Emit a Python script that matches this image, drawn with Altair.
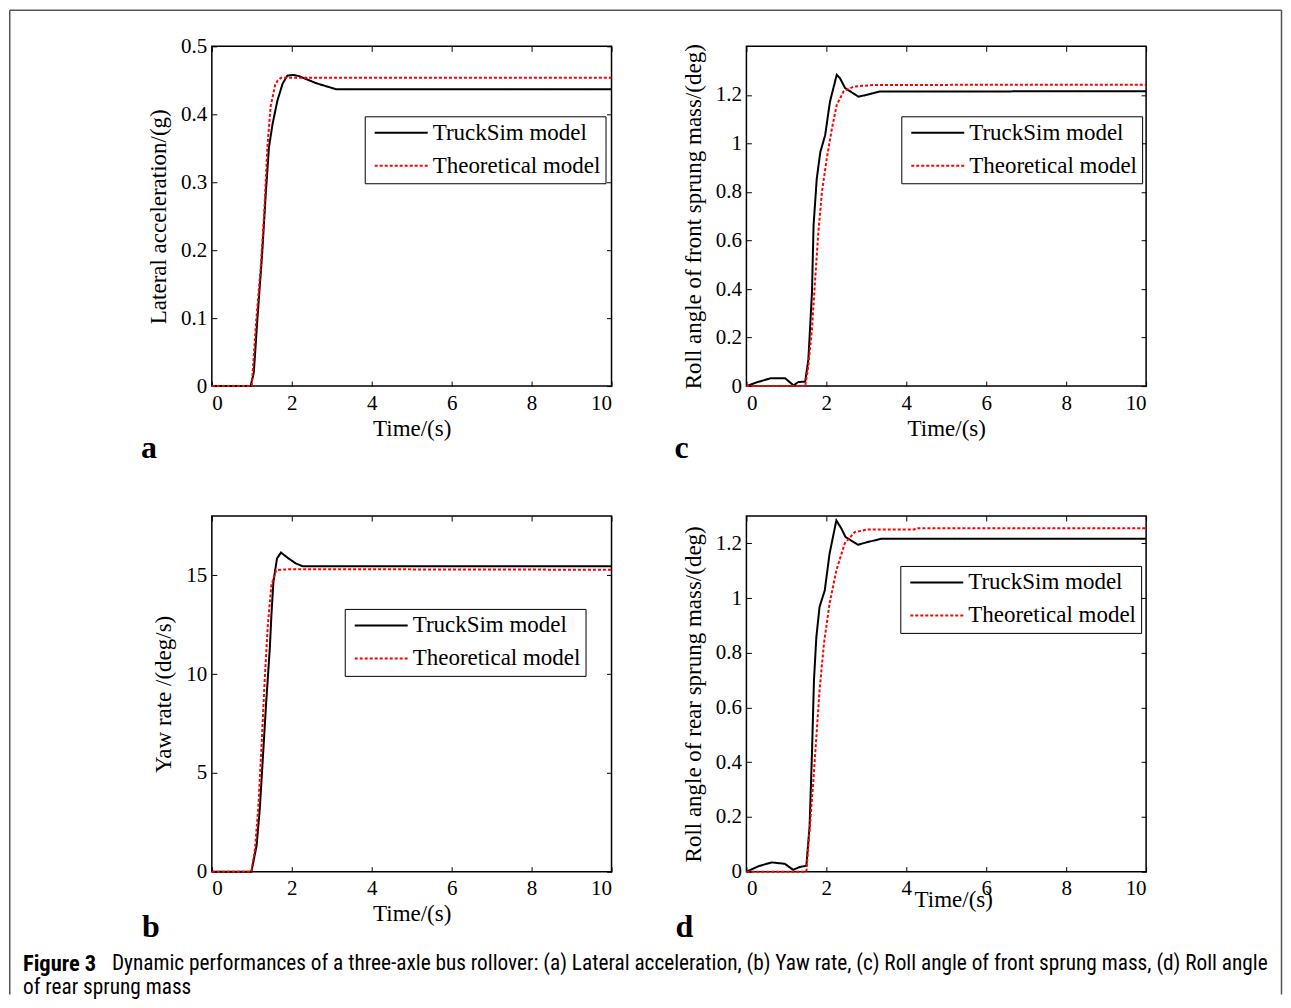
import altair as alt
import pandas as pd

SERIES = ["TruckSim model", "Theoretical model"]
X_TICKS = [0, 2, 4, 6, 8, 10]

# Panel a: lateral acceleration (g)
A_T_TRUCK = [0, 0.97, 1.05, 1.14, 1.26, 1.35, 1.43, 1.52, 1.64, 1.77, 1.89, 2.05, 2.19, 2.6, 3.1, 10]
A_V_TRUCK = [0, 0, 0.02, 0.099, 0.196, 0.284, 0.352, 0.386, 0.42, 0.445, 0.457, 0.458, 0.456, 0.446, 0.437, 0.437]
A_T_THEORY = [0, 1.0, 1.10, 1.22, 1.31, 1.39, 1.47, 1.58, 1.65, 1.73, 10]
A_V_THEORY = [0, 0, 0.089, 0.172, 0.255, 0.352, 0.411, 0.4425, 0.45, 0.4537, 0.4537]
A_Y_TICKS = [0, 0.1, 0.2, 0.3, 0.4, 0.5]

# Panel b: yaw rate (deg/s)
B_T_TRUCK = [0, 0.99, 1.12, 1.2, 1.28, 1.36, 1.45, 1.49, 1.54, 1.63, 1.73, 1.9, 2.1, 2.27, 10]
B_V_TRUCK = [0, 0, 1.32, 3.18, 5.88, 8.58, 11.29, 12.97, 14.66, 15.85, 16.15, 15.88, 15.6, 15.46, 15.46]
B_T_THEORY = [0, 0.99, 1.08, 1.16, 1.24, 1.32, 1.4, 1.49, 1.61, 1.94, 10]
B_V_THEORY = [0, 0, 1.15, 3.18, 6.22, 9.6, 12.47, 14.5, 15.26, 15.31, 15.28]
B_Y_TICKS = [0, 5, 10, 15]

# Panel c: roll angle of front sprung mass (deg)
C_T_TRUCK = [0, 0.25, 0.6, 0.97, 1.18, 1.3, 1.47, 1.55, 1.64, 1.68, 1.76, 1.85, 1.97, 2.09, 2.26, 2.34, 2.47, 2.8, 3.01, 3.34, 10]
C_V_TRUCK = [0, 0.015, 0.032, 0.032, 0.003, 0.017, 0.018, 0.11, 0.386, 0.662, 0.855, 0.965, 1.034, 1.172, 1.283, 1.269, 1.228, 1.193, 1.2, 1.214, 1.215]
C_T_THEORY = [0, 1.47, 1.55, 1.64, 1.72, 1.8, 1.89, 2.01, 2.14, 2.26, 2.43, 2.68, 3.17, 10]
C_V_THEORY = [0, 0, 0.083, 0.235, 0.441, 0.634, 0.8, 0.938, 1.062, 1.159, 1.214, 1.234, 1.241, 1.242]
C_Y_TICKS = [0, 0.2, 0.4, 0.6, 0.8, 1.0, 1.2]

# Panel d: roll angle of rear sprung mass (deg)
D_T_TRUCK = [0, 0.3, 0.63, 0.96, 1.17, 1.33, 1.5, 1.58, 1.64, 1.69, 1.75, 1.83, 1.96, 2.08, 2.25, 2.38, 2.48, 2.79, 3.04, 3.38, 10]
D_V_TRUCK = [0, 0.02, 0.034, 0.029, 0.007, 0.017, 0.022, 0.165, 0.433, 0.7, 0.858, 0.968, 1.028, 1.162, 1.284, 1.253, 1.223, 1.195, 1.205, 1.217, 1.217]
D_T_THEORY = [0, 1.5, 1.58, 1.67, 1.75, 1.83, 1.94, 2.08, 2.25, 2.46, 2.71, 3.04, 4.2, 4.25, 10]
D_V_THEORY = [0, 0, 0.153, 0.323, 0.493, 0.664, 0.834, 0.98, 1.101, 1.2, 1.241, 1.251, 1.251, 1.255, 1.255]
D_Y_TICKS = [0, 0.2, 0.4, 0.6, 0.8, 1.0, 1.2]

CAPTION_BOLD = "Figure 3"
CAPTION_LINE1 = ("Dynamic performances of a three-axle bus rollover: (a) Lateral acceleration, "
                 "(b) Yaw rate, (c) Roll angle of front sprung mass, (d) Roll angle")
CAPTION_LINE2 = "of rear sprung mass"

FONT = "Liberation Serif"
CAP_FONT = "Liberation Sans Narrow, Roboto Condensed, Roboto"
CAP_SIZE = 21.3

# layout (page pixels)
W = 400
H1, H2 = 340, 356
COL1_X, COL2_X = 211, 746
ROW1_Y, ROW2_Y = 45, 515
COL_SPACING = COL2_X - COL1_X - W
ROW_SPACING = ROW2_Y - ROW1_Y - H1


def make_df(tt, vt, tr, vr):
    rows = [{"t": t, "v": v, "series": SERIES[0]} for t, v in zip(tt, vt)]
    rows += [{"t": t, "v": v, "series": SERIES[1]} for t, v in zip(tr, vr)]
    return pd.DataFrame(rows)


def legend(lx, ly):
    return alt.Legend(
        title=None, orient="none", legendX=lx, legendY=ly,
        symbolType="M-0.62,0H4.43", symbolSize=441, symbolStrokeWidth=2,
        labelOffset=40, rowPadding=9, padding=5, labelLimit=400,
        strokeColor="black", fillColor="white", cornerRadius=0,
        labelFont=FONT, labelFontSize=23, labelColor="black",
    )


def text_layer(txt, x, y, font, size, weight="normal", baseline="alphabetic"):
    return alt.Chart(pd.DataFrame({"s": [txt]})).mark_text(
        font=font, fontSize=size, fontWeight=weight, align="left",
        baseline=baseline, color="black"
    ).encode(text="s:N", x=alt.value(x), y=alt.value(y))


def panel(df, ydom, yticks, ytitle, w, h, lx, ly, letter, lpos,
          x_title_pad=4, y_title_pad=10, x_title_x=None, extra=()):
    xs = alt.Scale(domain=[0, 10], nice=False, zero=False)
    ys = alt.Scale(domain=ydom, nice=False, zero=False)
    leg = legend(lx, ly)
    base = alt.Chart(df)
    xaxis_kw = dict(orient="bottom", values=X_TICKS, title="Time/(s)", tickSize=0,
                    domain=False, grid=False, labelPadding=6, titlePadding=x_title_pad)
    if x_title_x is not None:
        xaxis_kw["titleX"] = x_title_x
    main = base.mark_line(strokeWidth=2).encode(
        x=alt.X("t:Q", scale=xs, axis=alt.Axis(**xaxis_kw)),
        y=alt.Y("v:Q", scale=ys, axis=alt.Axis(orient="left", values=yticks, title=ytitle,
                                              format="~g", tickSize=0, domain=False, grid=False,
                                              labelPadding=5, titlePadding=y_title_pad)),
        color=alt.Color("series:N", scale=alt.Scale(domain=SERIES, range=["#000000", "#ff0000"]),
                        legend=leg),
        strokeDash=alt.StrokeDash("series:N", scale=alt.Scale(domain=SERIES, range=[[1, 0], [3, 2]]),
                                  legend=leg),
    )
    # inward ticks on bottom / left edges
    ticks1 = base.mark_point(opacity=0).encode(
        x=alt.X("t:Q", axis=alt.Axis(orient="top", offset=-h, values=X_TICKS, labels=False,
                                     title=None, tickSize=5, domain=False, grid=False)),
        y=alt.Y("v:Q", axis=alt.Axis(orient="right", offset=-w, values=yticks, labels=False,
                                     title=None, tickSize=5, domain=False, grid=False)),
    )
    # inward ticks on top / right edges
    ticks2 = base.mark_point(opacity=0).encode(
        x=alt.X("t:Q", axis=alt.Axis(orient="bottom", offset=-h, values=X_TICKS, labels=False,
                                     title=None, tickSize=5, domain=False, grid=False)),
        y=alt.Y("v:Q", axis=alt.Axis(orient="left", offset=-w, values=yticks, labels=False,
                                     title=None, tickSize=5, domain=False, grid=False)),
    )
    lab = text_layer(letter, lpos[0], lpos[1], FONT, 32, "bold")
    return alt.layer(main, ticks1, ticks2, lab, *extra).resolve_axis(
        x="independent", y="independent"
    ).properties(width=w, height=h)


# frame and caption, drawn relative to panel b's plot origin
bx, by = COL1_X, ROW2_Y
FR_L, FR_T, FR_R, FR_B = 8.75, 8.75, 1281.5, 994
frame_color = "#555555"
one = pd.DataFrame({"k": [0]})
frame_top = alt.Chart(one).mark_rule(color=frame_color, strokeWidth=1.5).encode(
    x=alt.value(FR_L - bx), x2=alt.value(FR_R - bx), y=alt.value(FR_T - by))
frame_left = alt.Chart(one).mark_rule(color=frame_color, strokeWidth=1.5).encode(
    x=alt.value(FR_L - bx), y=alt.value(FR_T - by), y2=alt.value(FR_B - by))
frame_right = alt.Chart(one).mark_rule(color=frame_color, strokeWidth=1.5).encode(
    x=alt.value(FR_R - bx), y=alt.value(FR_T - by), y2=alt.value(FR_B - by))
cap1 = text_layer(CAPTION_BOLD, 22 - bx, 963 - by, CAP_FONT, 22.5, "bold", "middle")
cap2 = text_layer(CAPTION_LINE1, 111 - bx, 963 - by, CAP_FONT, CAP_SIZE, "normal", "middle")
cap3 = text_layer(CAPTION_LINE2, 22 - bx, 987 - by, CAP_FONT, CAP_SIZE, "normal", "middle")

pa = panel(make_df(A_T_TRUCK, A_V_TRUCK, A_T_THEORY, A_V_THEORY), [0, 0.5], A_Y_TICKS,
           "Lateral acceleration/(g)", W, H1, 153, 70, "a", (-71, 412))
pc = panel(make_df(C_T_TRUCK, C_V_TRUCK, C_T_THEORY, C_V_THEORY), [0, 1.4], C_Y_TICKS,
           "Roll angle of front sprung mass/(deg)", W, H1, 155, 70, "c", (-72, 412))
pb = panel(make_df(B_T_TRUCK, B_V_TRUCK, B_T_THEORY, B_V_THEORY), [0, 18], B_Y_TICKS,
           "Yaw rate /(deg/s)", W, H2, 133, 93, "b", (-70, 421),
           extra=(frame_top, frame_left, frame_right, cap1, cap2, cap3))
pdd = panel(make_df(D_T_TRUCK, D_V_TRUCK, D_T_THEORY, D_V_THEORY), [0, 1.3], D_Y_TICKS,
            "Roll angle of rear sprung mass/(deg)", W, H2, 154, 50, "d", (-71, 421),
            x_title_pad=-10, x_title_x=W / 2 + 7)

chart = alt.concat(
    pa, pc, pb, pdd, columns=2,
    spacing={"row": ROW_SPACING, "column": COL_SPACING},
    bounds="flush", align="each",
).resolve_scale(
    color="independent", strokeDash="independent"
).properties(
    padding={"left": 0, "top": 0, "right": 0, "bottom": 0}, background="white",
    autosize=alt.AutoSizeParams(type="pad", contains="content")
).configure_view(
    stroke="black", strokeWidth=1.5
).configure_axis(
    labelFont=FONT, titleFont=FONT, labelFontSize=21, titleFontSize=23,
    labelColor="black", titleColor="black", titleFontWeight="normal",
    tickColor="black", tickWidth=1
)

chart.save("out.html", embed_options={"renderer": "svg", "actions": False})
